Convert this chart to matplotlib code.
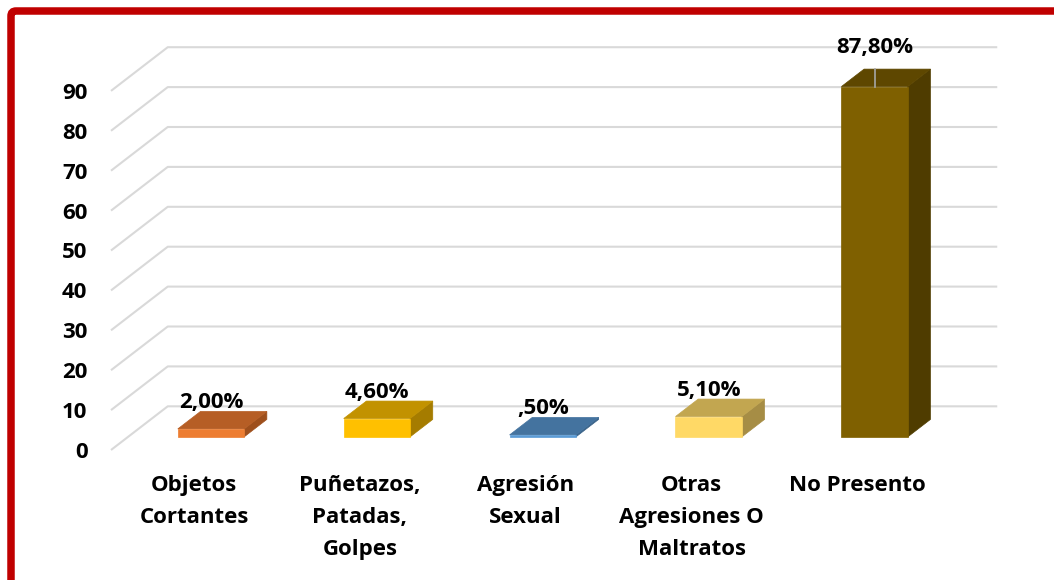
import numpy as np
import matplotlib
matplotlib.use('Agg')
import matplotlib.pyplot as plt
from matplotlib.patches import Polygon, FancyBboxPatch

# data
categories = ['Objetos\nCortantes', 'Puñetazos,\nPatadas,\nGolpes', 'Agresión\nSexual',
              'Otras\nAgresiones O\nMaltratos', 'No Presento']
values = [2.0, 4.6, 0.5, 5.1, 87.8]
value_labels = ['2,00%', '4,60%', ',50%', '5,10%', '87,80%']
yticks = list(range(0, 100, 10))

# colours per bar: front, top, side
front_cols = ['#ED7D31', '#FFC000', '#5B9BD5', '#FFD966', '#7F6000']
top_cols = ['#B65E25', '#C29200', '#44739F', '#C2A650', '#5E4700']
side_cols = ['#9E4F1C', '#A57C00', '#3A6389', '#A68D45', '#4F3C00']

plt.rcParams['font.family'] = ['Open Sans', 'DejaVu Sans']
plt.rcParams['font.weight'] = 'bold'
FS = 16

# fake 3d: depth z in [0, 1] shifts a point right and up
DX = 0.342     # category units for full depth
DY = 10.95     # value units for full depth
Z0, Z1 = 0.3, 0.7
BW = 0.2       # half width of bar


def proj(x, v, z):
    return (x + z * DX, v + z * DY)


fig = plt.figure(figsize=(10.54, 5.8), dpi=100)
ax = fig.add_axes([111 / 1054, 130 / 580, 889 / 1054, 420 / 580])
ax.set_xlim(-0.5, -0.5 + 889 / 165.9)
ax.set_ylim(0, 420 / 3.99)

n = len(categories)

# back wall grid lines with the diagonal on the left side
for v in yticks:
    p0 = proj(-0.5, v, 0)
    p1 = proj(-0.5, v, 1)
    p2 = proj(n - 0.5, v, 1)
    ax.plot([p0[0], p1[0], p2[0]], [p0[1], p1[1], p2[1]], color='#D9D9D9',
            lw=1.5, zorder=1, solid_capstyle='butt', clip_on=False)

# bars
for i, h in enumerate(values):
    x0, x1 = i - BW, i + BW
    front = [proj(x0, 0, Z0), proj(x1, 0, Z0), proj(x1, h, Z0), proj(x0, h, Z0)]
    top = [proj(x0, h, Z0), proj(x1, h, Z0), proj(x1, h, Z1), proj(x0, h, Z1)]
    side = [proj(x1, 0, Z0), proj(x1, 0, Z1), proj(x1, h, Z1), proj(x1, h, Z0)]
    ax.add_patch(Polygon(side, closed=True, fc=side_cols[i], ec=side_cols[i], lw=0.5, zorder=3))
    ax.add_patch(Polygon(top, closed=True, fc=top_cols[i], ec=top_cols[i], lw=0.5, zorder=3))
    ax.add_patch(Polygon(front, closed=True, fc=front_cols[i], ec=front_cols[i], lw=0.5, zorder=4))

    cx, cy = proj(i, h, Z0)
    if h > 50:
        ax.plot([cx, cx], [cy, cy + 4.4], color='#A6A6A6', lw=1.2, zorder=5)
        ly = cy + 9.7
    else:
        ly = cy + 6.5
    ax.text(cx, ly, value_labels[i], ha='center', va='center', fontsize=FS,
            fontweight='bold', color='black', zorder=6)

# axes text
ax.set_yticks(yticks)
ax.set_yticklabels([str(t) for t in yticks], fontsize=FS, fontweight='bold')
ax.set_xticks(range(n))
ax.set_xticklabels(categories, fontsize=FS, fontweight='bold', linespacing=1.68)
ax.tick_params(axis='y', length=0, pad=17)
ax.tick_params(axis='x', length=0, pad=18)
for s in ax.spines.values():
    s.set_visible(False)
ax.patch.set_alpha(0)

# red frame, open to the right and bottom
frame = FancyBboxPatch((0.11, -1.0), 12.0, 6.69, boxstyle='round,pad=0,rounding_size=0.05',
                       transform=fig.dpi_scale_trans, fc='none', ec='#C00000', lw=5.4)
fig.add_artist(frame)

fig.savefig('out.png', dpi=100)
